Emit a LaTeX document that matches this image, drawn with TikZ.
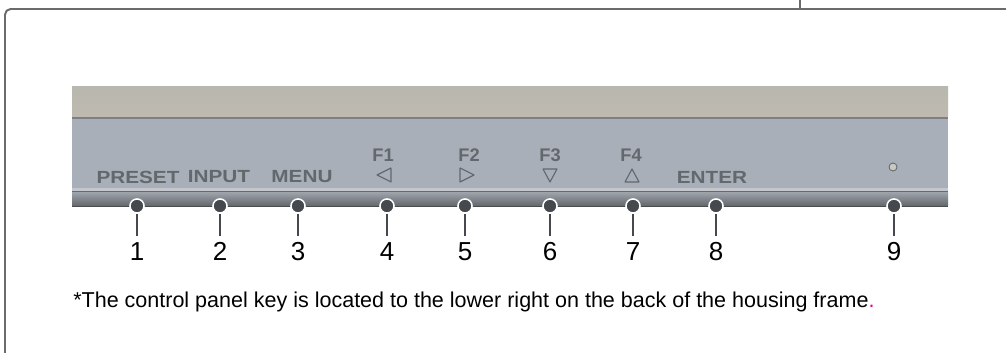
\documentclass[tikz,border=0pt]{standalone}
\usepackage{fontspec}
\setmainfont{Liberation Sans}
\newfontfamily\keyfont[FakeStretch=1.18]{Liberation Sans}
\definecolor{framegray}{HTML}{6B6B6B}
\definecolor{beigetop}{HTML}{B8B8AE}
\definecolor{beigebot}{HTML}{BFB9B0}
\definecolor{panelblue}{HTML}{A9AFB8}
\definecolor{paneledge}{HTML}{656A6F}
\definecolor{bandtop}{HTML}{9AA0A7}
\definecolor{bandbot}{HTML}{62676C}
\definecolor{keygray}{HTML}{63686D}
\definecolor{dotgray}{HTML}{45494D}
\definecolor{ledfill}{HTML}{C9C9BF}
\definecolor{notepink}{HTML}{E6007E}
\tikzset{
  key/.style={font=\keyfont\bfseries\fontsize{12.5}{12.5}\selectfont,text=keygray,inner sep=0pt},
  fkey/.style={font=\bfseries\fontsize{13}{13}\selectfont,text=keygray,inner sep=0pt},
  keydot/.style={circle,draw=white,fill=dotgray,line width=1.1pt,minimum size=10pt,inner sep=0pt},
  num/.style={font=\fontsize{18.5}{18.5}\selectfont,anchor=north,text height=13.25pt,text depth=0pt,inner sep=4pt},
  lead/.style={draw=dotgray,line width=1.8pt,line cap=butt},
  led/.style={circle,fill=ledfill,draw=keygray,line width=0.6pt,minimum size=5.7pt,inner sep=0pt},
  note/.style={font=\fontsize{15.3}{15.3}\selectfont,inner sep=0pt,anchor=base west}
}
\begin{document}
\begin{tikzpicture}[x=0.025cm,y=-0.025cm,line cap=round,line join=round]
\useasboundingbox (0,0) rectangle (1006,353);
\draw[framegray,line width=1.4pt,rounded corners=4pt] (1012,9)--(5,9)--(5,360);
\draw[framegray,line width=1.4pt,line cap=butt] (800,-2)--(800,9);
\shade[top color=beigetop,bottom color=beigebot] (72,87) rectangle (948,117);
\fill[paneledge!85] (72,117) rectangle (948,119.5);
\fill[panelblue] (72,119.5) rectangle (948,188);
\fill[panelblue!70!white] (72,188) rectangle (948,191);
\fill[paneledge] (72,191) rectangle (948,193);
\shade[top color=bandtop,bottom color=bandbot] (72,193) rectangle (948,206);
\fill[black!70] (72,206) rectangle (948,207.5);
\node[key] (preset) at (138,177) {PRESET};
\node[key] (input) at (219,177) {INPUT};
\node[key] (menu) at (302,177) {MENU};
\node[key] (enter) at (712,177) {ENTER};
\node[fkey] (f1) at (383,155) {F1};
\node[fkey] (f2) at (469,155) {F2};
\node[fkey] (f3) at (550,155) {F3};
\node[fkey] (f4) at (631,155) {F4};
\draw[keygray,line width=0.8pt] (377,175)--(391,168)--(391,182)--cycle;
\draw[keygray,line width=0.8pt] (474,175)--(460,168)--(460,182)--cycle;
\draw[keygray,line width=0.8pt] (543,169)--(557,169)--(550,182)--cycle;
\draw[keygray,line width=0.8pt] (625,182)--(639,182)--(632,169)--cycle;
\node[led] (led) at (893,167) {};
\foreach \x/\k in {137/1,220/2,298/3,387/4,465/5,550/6,633/7,716/8,894/9}{
  \node[num] (n\k) at (\x,236) {\k};
  \node[keydot] (d\k) at (\x,206) {};
  \draw[lead] (d\k.south) -- (n\k.north);
}
\node[note] (note) at (73,307.7) {*The control panel key is located to the lower right on the back of the housing frame\textcolor{notepink}{.}};
\end{tikzpicture}
\end{document}
